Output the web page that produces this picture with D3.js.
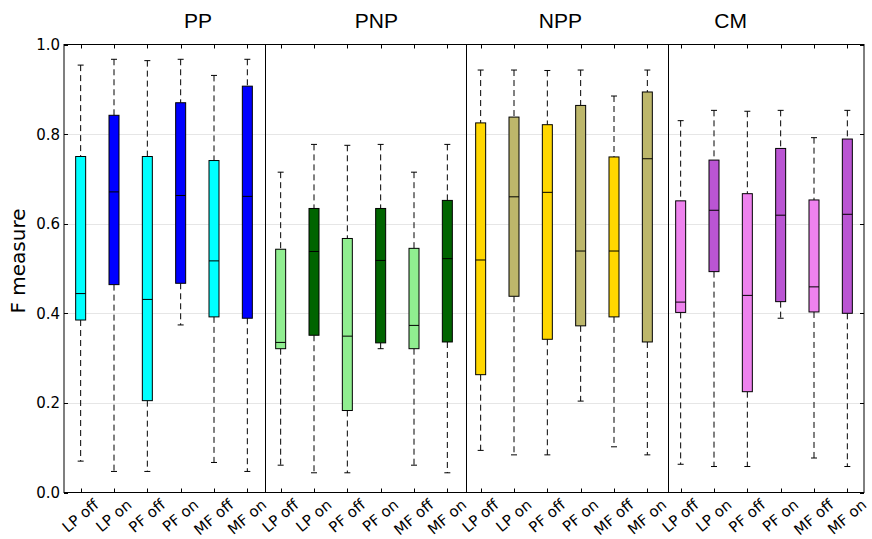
<!DOCTYPE html>
<html>
<head>
<meta charset="utf-8">
<script src="https://cdn.jsdelivr.net/npm/d3@7"></script>
<style>
  html, body { margin: 0; padding: 0; background: #fff; }
  svg { display: block; }
</style>
</head>
<body>
<svg id="chart" width="872" height="539"></svg>
<script>
// ---------- data ----------
const groups = ["PP", "PNP", "NPP", "CM"];
const conditions = ["LP off", "LP on", "PF off", "PF on", "MF off", "MF on"];
const whiskerHigh = [
  0.954, 0.967, 0.964, 0.967, 0.931, 0.967,
  0.715, 0.777, 0.775, 0.777, 0.715, 0.777,
  0.943, 0.943, 0.942, 0.943, 0.885, 0.943,
  0.830, 0.853, 0.851, 0.853, 0.792, 0.853
];
const q3 = [
  0.750, 0.842, 0.750, 0.870, 0.741, 0.907,
  0.543, 0.634, 0.567, 0.634, 0.545, 0.652,
  0.825, 0.838, 0.821, 0.864, 0.749, 0.894,
  0.651, 0.742, 0.667, 0.768, 0.653, 0.789
];
const medians = [
  0.444, 0.671, 0.431, 0.663, 0.517, 0.661,
  0.335, 0.538, 0.349, 0.518, 0.373, 0.522,
  0.519, 0.660, 0.670, 0.539, 0.539, 0.745,
  0.425, 0.630, 0.440, 0.619, 0.459, 0.621
];
const q1 = [
  0.385, 0.464, 0.205, 0.467, 0.392, 0.389,
  0.321, 0.351, 0.183, 0.334, 0.321, 0.336,
  0.263, 0.438, 0.342, 0.372, 0.392, 0.336,
  0.402, 0.493, 0.225, 0.426, 0.403, 0.400
];
const whiskerLow = [
  0.070, 0.047, 0.047, 0.374, 0.067, 0.047,
  0.061, 0.044, 0.044, 0.321, 0.061, 0.044,
  0.094, 0.084, 0.084, 0.204, 0.102, 0.084,
  0.063, 0.058, 0.058, 0.389, 0.077, 0.058
];
const offColors = ["#00ffff", "#90ee90", "#ffd700", "#ee82ee"];
const onColors  = ["#0000ff", "#006400", "#bdb76b", "#ba55d3"];
const yTicks = [0.0, 0.2, 0.4, 0.6, 0.8, 1.0];
const yLabel = "F measure";

// ---------- layout ----------
const svg = d3.select("#chart");
const pLeft = 64, pRight = 864, pTop = 44.5, pBottom = 492.5;
const x = d3.scaleLinear().domain([0.5, 24.5]).range([pLeft, pRight]);
const y = d3.scaleLinear().domain([0, 1]).range([pBottom, pTop]);
const boxW = 10, capW = 6, tickLen = 4;
const separatorsAt = [6.53, 12.55, 18.62];
const groupLabelAt = [4.52, 9.87, 15.39, 20.5];

const rows = whiskerHigh.map((_, i) => ({
  i,
  pos: i + 1,
  group: Math.floor(i / conditions.length),
  cond: conditions[i % conditions.length],
  lo: whiskerLow[i], q1: q1[i], med: medians[i], q3: q3[i], hi: whiskerHigh[i],
  color: (i % 2 === 0 ? offColors : onColors)[Math.floor(i / conditions.length)]
}));

// grid
svg.append("g").selectAll("line").data(yTicks.filter(t => t > 0 && t < 1)).join("line")
  .attr("x1", pLeft).attr("x2", pRight)
  .attr("y1", d => Math.round(y(d)) + 0.5).attr("y2", d => Math.round(y(d)) + 0.5)
  .attr("stroke", "#e6e6e6").attr("stroke-width", 1);

// boxes
const g = svg.append("g");
const bx = g.selectAll("g.box").data(rows).join("g").attr("class", "box");
bx.append("line")
  .attr("x1", d => x(d.pos)).attr("x2", d => x(d.pos))
  .attr("y1", d => y(d.hi)).attr("y2", d => y(d.q3))
  .attr("stroke", "#000").attr("stroke-dasharray", "6,4");
bx.append("line")
  .attr("x1", d => x(d.pos)).attr("x2", d => x(d.pos))
  .attr("y1", d => y(d.q1)).attr("y2", d => y(d.lo))
  .attr("stroke", "#000").attr("stroke-dasharray", "6,4");
bx.append("line")
  .attr("x1", d => x(d.pos) - capW / 2).attr("x2", d => x(d.pos) + capW / 2)
  .attr("y1", d => y(d.hi)).attr("y2", d => y(d.hi)).attr("stroke", "#000");
bx.append("line")
  .attr("x1", d => x(d.pos) - capW / 2).attr("x2", d => x(d.pos) + capW / 2)
  .attr("y1", d => y(d.lo)).attr("y2", d => y(d.lo)).attr("stroke", "#000");
bx.append("rect")
  .attr("x", d => x(d.pos) - boxW / 2).attr("width", boxW)
  .attr("y", d => y(d.q3)).attr("height", d => y(d.q1) - y(d.q3))
  .attr("fill", d => d.color).attr("stroke", "#000").attr("stroke-width", 1);
bx.append("line")
  .attr("x1", d => x(d.pos) - boxW / 2).attr("x2", d => x(d.pos) + boxW / 2)
  .attr("y1", d => y(d.med)).attr("y2", d => y(d.med)).attr("stroke", "#000");

// separators
svg.append("g").selectAll("line").data(separatorsAt).join("line")
  .attr("x1", d => Math.round(x(d)) + 0.5).attr("x2", d => Math.round(x(d)) + 0.5)
  .attr("y1", pTop).attr("y2", pBottom).attr("stroke", "#000");

// frame
svg.append("rect").attr("x", pLeft).attr("y", pTop).attr("width", pRight - pLeft).attr("height", pBottom - pTop)
  .attr("fill", "none").attr("stroke", "#000").attr("stroke-width", 1);

// y ticks (left & right, inward)
const yt = svg.append("g");
yTicks.forEach(t => {
  const yy = Math.round(y(t)) + 0.5;
  yt.append("line").attr("x1", pLeft).attr("x2", pLeft + tickLen).attr("y1", yy).attr("y2", yy).attr("stroke", "#000");
  yt.append("line").attr("x1", pRight - tickLen).attr("x2", pRight).attr("y1", yy).attr("y2", yy).attr("stroke", "#000");
  yt.append("text").attr("x", pLeft - 4).attr("y", y(t)).attr("dy", "0.36em")
    .attr("text-anchor", "end").attr("font-family", "DejaVu Sans").attr("font-size", 15)
    .text(d3.format(".1f")(t));
});

// x ticks (bottom & top, inward)
const xt = svg.append("g");
rows.forEach(d => {
  const xx = Math.round(x(d.pos)) + 0.5;
  xt.append("line").attr("x1", xx).attr("x2", xx).attr("y1", pBottom).attr("y2", pBottom - tickLen).attr("stroke", "#000");
  xt.append("line").attr("x1", xx).attr("x2", xx).attr("y1", pTop).attr("y2", pTop + tickLen).attr("stroke", "#000");
});

// x tick labels rotated, bbox centered on tick, top aligned
const ang = 40, rad = ang * Math.PI / 180, fs = 15, labelTop = 497;
rows.forEach(d => {
  const t = xt.append("text").attr("font-family", "DejaVu Sans").attr("font-size", fs)
    .attr("text-anchor", "middle").attr("dy", "0.32em").text(d.cond);
  const w = t.node().getComputedTextLength();
  const h = fs * 1.0;
  const H = w * Math.sin(rad) + h * Math.cos(rad);
  const cx = x(d.pos), cy = labelTop + H / 2;
  t.attr("x", cx).attr("y", cy).attr("transform", `rotate(${-ang},${cx},${cy})`);
});

// group labels
svg.append("g").selectAll("text").data(groups).join("text")
  .attr("x", (d, i) => x(groupLabelAt[i])).attr("y", 28)
  .attr("text-anchor", "middle").attr("font-family", "Liberation Sans, Arial, sans-serif").attr("font-size", 21)
  .text(d => d);

// y label
svg.append("text").attr("transform", `translate(25,261) rotate(-90)`)
  .attr("text-anchor", "middle").attr("font-family", "DejaVu Sans").attr("font-size", 20)
  .text(yLabel);
</script>
</body>
</html>
